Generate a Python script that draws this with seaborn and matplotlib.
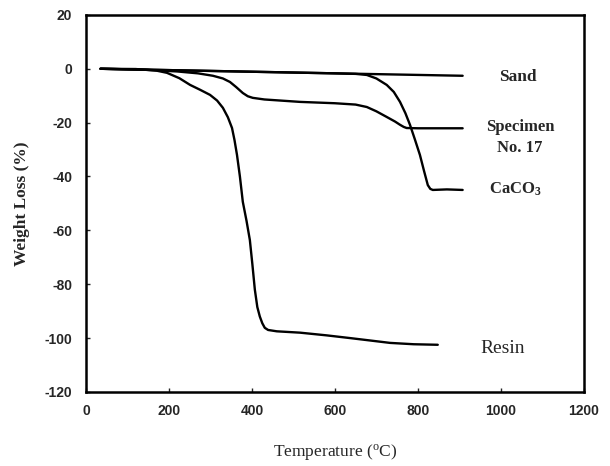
import matplotlib
matplotlib.use("Agg")
import matplotlib.pyplot as plt
import seaborn as sns
import pandas as pd

# Thermogravimetric curves: temperature (°C) vs weight loss (%)
sand_t = [35, 300, 600, 908]
sand_w = [0, -0.8, -1.7, -2.6]

spec_t = [35, 147, 220, 270, 306, 330, 347, 362, 378, 390, 402, 430, 516, 600,
          650, 677, 700, 725, 745, 757, 766, 773, 800, 908]
spec_w = [0, -0.4, -1.0, -1.7, -2.6, -3.6, -4.9, -6.8, -9.0, -10.2, -10.8, -11.4,
          -12.3, -12.8, -13.3, -14.2, -15.8, -17.9, -19.6, -20.8, -21.6, -22.0,
          -22.1, -22.1]

caco3_t = [35, 300, 600, 650, 677, 700, 725, 742, 757, 770, 781, 793, 805, 815,
           824, 830, 836, 870, 908]
caco3_w = [0, -0.8, -1.7, -1.9, -2.3, -3.6, -6.0, -8.6, -12.3, -16.5, -20.8,
           -26.3, -32.0, -38.0, -43.2, -44.6, -45.0, -44.8, -45.0]

resin_t = [35, 120, 170, 195, 225, 251, 275, 299, 316, 330, 342, 352, 358, 364,
           371, 378, 387, 395, 401, 407, 413, 419, 425, 431, 439, 460, 516, 580,
           636, 690, 733, 790, 848]
resin_w = [0, -0.1, -0.7, -1.5, -3.5, -6.0, -7.8, -9.7, -11.8, -14.5, -18.0,
           -22.0, -26.5, -32.0, -40.0, -49.4, -56.5, -63.6, -72.5, -82.0, -88.5,
           -92.0, -94.5, -96.2, -97.0, -97.5, -98.0, -99.0, -100.0, -101.0,
           -101.8, -102.3, -102.5]

x_ticks = [0, 200, 400, 600, 800, 1000, 1200]
y_ticks = [20, 0, -20, -40, -60, -80, -100, -120]

sns.set_style("ticks")
plt.rcParams["font.family"] = ["Liberation Serif", "DejaVu Serif"]
plt.rcParams["axes.unicode_minus"] = False

fig = plt.figure(figsize=(6.1, 4.66), dpi=100)
ax = fig.add_axes([0.141, 0.159, 0.816, 0.809])

series = [(sand_t, sand_w), (spec_t, spec_w), (caco3_t, caco3_w), (resin_t, resin_w)]
for t, w in series:
    df = pd.DataFrame({"T": t, "W": w})
    sns.lineplot(data=df, x="T", y="W", ax=ax, color="black", linewidth=1.7,
                 sort=False, estimator=None)

ax.set_xlim(0, 1200)
ax.set_ylim(-120, 20)
ax.set_xticks(x_ticks)
ax.set_yticks(y_ticks)
ax.tick_params(direction="in", length=3, width=1, labelsize=10)
ax.tick_params(axis="x", pad=9)
ax.tick_params(axis="y", pad=10)
for lab in ax.get_xticklabels() + ax.get_yticklabels():
    lab.set_family(["Liberation Sans", "DejaVu Sans"])
    lab.set_fontweight("bold")
for s in ax.spines.values():
    s.set_linewidth(1.8)
    s.set_color("black")

ax.set_xlabel("Temperature ($\\mathregular{^oC}$)", fontsize=12.5, labelpad=17)
ax.set_ylabel("Weight Loss (%)", fontsize=12.5, fontweight="bold", labelpad=10)

ax.text(1041, -3, "Sand", fontsize=12.5, fontweight="bold", ha="center", va="center")
ax.text(1046, -21.6, "Specimen", fontsize=12, fontweight="bold", ha="center", va="center")
ax.text(1046, -29.4, "No. 17", fontsize=12, fontweight="bold", ha="center", va="center")
ax.text(1034, -44.6, "CaCO$\\mathregular{_3}$", fontsize=12, fontweight="bold",
        ha="center", va="center")
ax.text(1005, -104, "Resin", fontsize=14, ha="center", va="center")

fig.savefig("out.png", dpi=100, facecolor="white")
